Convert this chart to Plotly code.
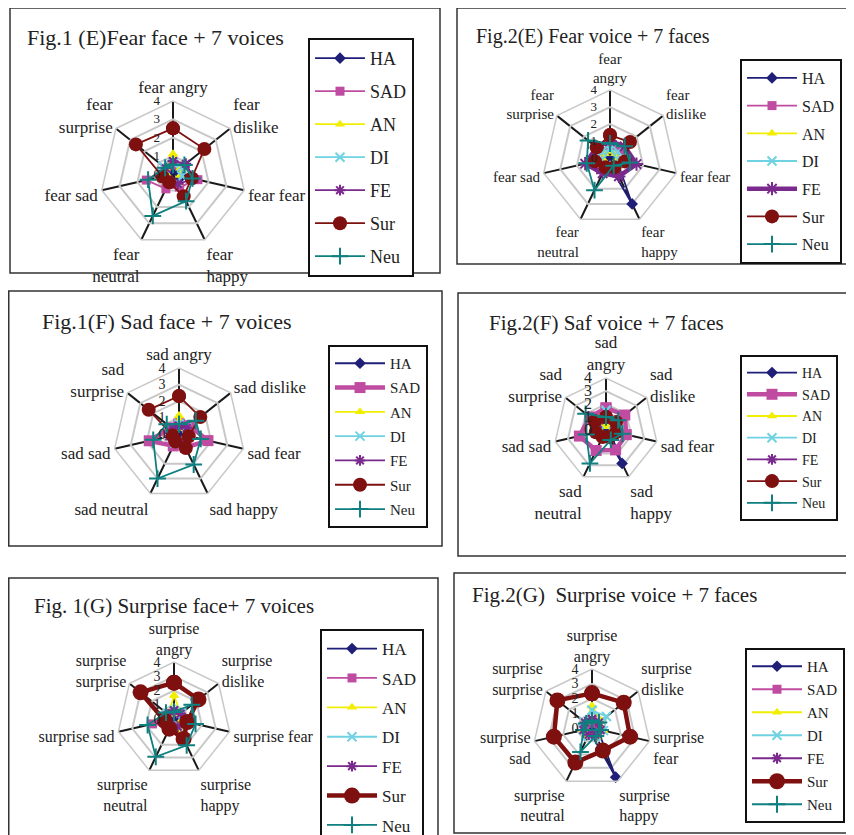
import plotly.graph_objects as go

# the page has an 8px body margin; layout is given in reference pixels shifted by it.
# The figure is made larger than the viewport so that the parts the reference cuts
# off at the right/bottom edges are simply cropped by the window.
OFF = 8
FW, FH = 870, 870
SERIF = "Liberation Serif, Times New Roman, serif"

# ---------------- data ----------------
series_names = ["HA", "SAD", "AN", "DI", "FE", "Sur", "Neu"]

# axis order: angry, dislike, fear, happy, neutral, sad, surprise
labels_1e = ["fear angry", "fear<br>dislike", "fear fear", "fear<br>happy",
             "fear<br>neutral", "fear sad", "fear<br>surprise"]
values_1e = {
    "HA":  [0.3, 0.3, 0.5, 0.5, 0.3, 0.3, 0.3],
    "SAD": [0.5, 0.7, 1.4, 0.8, 0.9, 1.5, 0.5],
    "AN":  [1.1, 0.5, 0.4, 0.6, 0.4, 0.3, 0.5],
    "DI":  [0.6, 0.6, 0.5, 0.5, 0.5, 0.5, 0.7],
    "FE":  [0.7, 0.9, 1.2, 0.6, 0.5, 0.6, 0.5],
    "Sur": [2.5, 2.2, 1.05, 1.35, 0.5, 0.6, 2.6],
    "Neu": [0.5, 0.8, 1.1, 1.65, 2.55, 1.4, 0.55],
}

labels_2e = ["fear<br>angry", "fear<br>dislike", "fear fear", "fear<br>happy",
             "fear<br>neutral", "fear sad", "fear<br>surprise"]
values_2e = {
    "HA":  [0.3, 0.3, 0.4, 3.0, 0.3, 0.3, 0.3],
    "SAD": [0.6, 0.7, 1.0, 0.8, 0.8, 0.9, 0.6],
    "AN":  [0.4, 0.4, 0.4, 0.4, 0.4, 0.4, 0.4],
    "DI":  [0.5, 0.6, 0.5, 0.5, 0.5, 0.5, 0.6],
    "FE":  [1.0, 1.1, 1.6, 1.2, 1.0, 1.5, 1.0],
    "Sur": [1.35, 1.5, 0.9, 0.6, 0.6, 0.9, 1.0],
    "Neu": [0.85, 1.1, 1.2, 0.5, 2.1, 1.4, 1.65],
}

labels_1f = ["sad angry", "sad dislike", "sad fear", "sad happy",
             "sad neutral", "sad sad", "sad<br>surprise"]
values_1f = {
    "HA":  [0.3, 0.3, 0.3, 0.4, 0.3, 0.3, 0.3],
    "SAD": [0.6, 0.8, 1.8, 0.9, 0.8, 1.85, 0.6],
    "AN":  [1.1, 0.5, 0.4, 0.8, 0.6, 0.4, 0.4],
    "DI":  [0.6, 0.6, 0.5, 0.5, 0.6, 0.5, 0.6],
    "FE":  [0.5, 0.6, 0.6, 0.5, 0.5, 0.6, 0.5],
    "Sur": [2.3, 1.65, 0.6, 0.95, 0.5, 0.4, 2.35],
    "Neu": [0.6, 1.3, 1.35, 2.05, 3.0, 1.6, 0.95],
}

labels_2f = ["sad<br>angry", "sad<br>dislike", "sad fear", "sad<br>happy",
             "sad<br>neutral", "sad sad", "sad<br>surprise"]
values_2f = {
    "HA":  [0.3, 0.3, 0.3, 2.85, 0.3, 0.3, 0.3],
    "SAD": [1.7, 1.85, 1.6, 1.7, 1.75, 2.1, 1.6],
    "AN":  [0.4, 0.4, 0.4, 0.4, 0.4, 0.4, 0.4],
    "DI":  [1.5, 0.8, 0.6, 0.5, 0.5, 0.6, 0.7],
    "FE":  [0.8, 0.8, 0.7, 0.6, 0.6, 0.7, 0.8],
    "Sur": [1.0, 1.0, 0.8, 0.6, 0.6, 0.8, 1.1],
    "Neu": [1.0, 1.2, 1.3, 0.85, 2.85, 1.55, 2.0],
}

labels_1g = ["surprise<br>angry", "surprise<br>dislike", "surprise fear", "surprise<br>happy",
             "surprise<br>neutral", "surprise sad", "surprise<br>surprise"]
values_1g = {
    "HA":  [0.3, 0.3, 0.3, 0.4, 0.3, 0.3, 0.3],
    "SAD": [0.5, 0.6, 1.0, 0.6, 0.6, 1.55, 0.6],
    "AN":  [1.65, 0.6, 0.5, 0.9, 0.5, 0.4, 0.5],
    "DI":  [0.6, 0.7, 0.6, 0.6, 0.5, 0.6, 0.6],
    "FE":  [0.6, 0.6, 0.8, 0.6, 0.5, 0.6, 0.5],
    "Sur": [2.55, 2.2, 0.95, 1.55, 0.75, 0.65, 3.0],
    "Neu": [0.5, 1.6, 1.55, 2.05, 2.95, 1.9, 0.72],
}

labels_2g = ["surprise<br>angry", "surprise<br>dislike", "surprise<br>fear", "surprise<br>happy",
             "surprise<br>neutral", "surprise<br>sad", "surprise<br>surprise"]
values_2g = {
    "HA":  [0.3, 0.3, 0.4, 3.7, 0.3, 0.3, 0.3],
    "SAD": [0.5, 0.5, 0.5, 0.5, 0.5, 0.5, 0.5],
    "AN":  [1.5, 0.8, 0.8, 0.7, 0.6, 0.6, 0.6],
    "DI":  [1.2, 1.25, 0.8, 0.6, 0.6, 0.6, 0.7],
    "FE":  [0.6, 0.6, 0.6, 0.5, 0.5, 0.6, 0.6],
    "Sur": [2.35, 2.75, 2.65, 1.7, 2.6, 2.65, 3.0],
    "Neu": [0.5, 0.6, 0.6, 0.6, 1.8, 0.6, 0.5],
}

titles = ["Fig.1 (E)Fear face + 7 voices", "Fig.2(E) Fear voice + 7 faces",
          "Fig.1(F) Sad face + 7 voices", "Fig.2(F) Saf voice + 7 faces",
          "Fig. 1(G) Surprise face+ 7 voices", "Fig.2(G)  Surprise voice + 7 faces"]
radial_ticks = [0, 1, 2, 3, 4]

# ---------------- styles / layout geometry (reference px) ----------------
colors = {"HA": "#1f1f78", "SAD": "#c04ca2", "AN": "#f2ee00", "DI": "#6fd2e2",
          "FE": "#7a2a8c", "Sur": "#7f1010", "Neu": "#0f7f80"}
symbols = {"HA": "diamond", "SAD": "square", "AN": "triangle-up", "DI": "x-thin-open",
           "FE": "asterisk-open", "Sur": "circle", "Neu": "cross-thin-open"}
msize = {"HA": 9, "SAD": 9, "AN": 9, "DI": 9, "FE": 9, "Sur": 14, "Neu": 12}

panels = [
    dict(labels=labels_1e, values=values_1e, c=(173, 174), R=73, box=(10, 8, 440, 273),
         title=(25, 38, 22), leg=(308, 38, 18, 6.6), hl=None, afont=17, rfont=13),
    dict(labels=labels_2e, values=values_2e, c=(610, 158), R=68, box=(457, 8, 900, 264),
         title=(474, 37, 20), leg=(740, 59, 16, 3.9), hl="FE", afont=15, rfont=13),
    dict(labels=labels_1f, values=values_1f, c=(179, 434), R=66, box=(3, 291, 442, 546),
         title=(40, 321, 22), leg=(328, 345, 15, 1.8), hl="SAD", afont=17, rfont=14),
    dict(labels=labels_2f, values=values_2f, c=(606, 430), R=52, box=(458, 293, 900, 556),
         title=(487, 323, 21), leg=(740, 355, 14, 0.5), hl="SAD", afont=17, rfont=16),
    dict(labels=labels_1g, values=values_1g, c=(174, 719), R=57, box=(5, 578, 438, 900),
         title=(32, 606, 21), leg=(320, 629, 17, 4.3), hl="Sur", afont=16, rfont=14),
    dict(labels=labels_2g, values=values_2g, c=(592, 728), R=59, box=(454, 573, 900, 833),
         title=(470, 595, 21), leg=(745, 648, 15, 0.5), hl="Sur", afont=16, rfont=14),
]


def fx(x):
    return (max(x, OFF + 0.75) - OFF) / FW


def fy(y):
    return 1 - (y - OFF) / FH


fig = go.Figure()
layout = dict(width=FW, height=FH, autosize=False, margin=dict(l=0, r=0, t=0, b=0),
              paper_bgcolor="white", plot_bgcolor="white", showlegend=True,
              shapes=[], annotations=[])

for i, p in enumerate(panels):
    n = i + 1
    pid = "polar" if n == 1 else f"polar{n}"
    lid = "legend" if n == 1 else f"legend{n}"
    cx, cy = p["c"]
    R = p["R"]
    for s in series_names:
        vals = p["values"][s]
        thick = (p["hl"] == s)
        open_sym = symbols[s].endswith("open")
        fig.add_trace(go.Scatterpolar(
            r=vals + vals[:1], theta=p["labels"] + p["labels"][:1],
            mode="lines+markers", name=s, subplot=pid, legend=lid,
            legendgroup=f"p{n}{s}",
            line=dict(color=colors[s], width=4.5 if thick else 1.8),
            marker=dict(symbol=symbols[s], size=msize[s] + (2 if thick else 0),
                        color=colors[s],
                        line=dict(color=colors[s], width=2 if open_sym else 0)),
        ))
    layout[pid] = dict(
        domain=dict(x=[fx(cx - R), fx(cx + R)], y=[fy(cy + R), fy(cy - R)]),
        gridshape="linear", bgcolor="white",
        angularaxis=dict(type="category", categoryarray=p["labels"], rotation=90,
                         direction="clockwise", showline=True, linecolor="#c8c8c8",
                         linewidth=1.5, gridcolor="#1a1a1a", gridwidth=1.5, ticks="",
                         tickfont=dict(family=SERIF, size=p["afont"], color="#222")),
        radialaxis=dict(range=[0, 4], tickvals=radial_ticks, angle=90, tickangle=90,
                        side="counterclockwise", showline=False,
                        ticks="outside", ticklen=8, tickcolor="rgba(0,0,0,0)",
                        gridcolor="#c8c8c8", gridwidth=1.5,
                        tickfont=dict(family=SERIF, size=p["rfont"], color="#222")),
    )
    lx, ly, lfs, gap = p["leg"]
    layout[lid] = dict(x=fx(lx), y=fy(ly), xanchor="left", yanchor="top",
                       xref="paper", yref="paper",
                       bordercolor="#111", borderwidth=2, bgcolor="white",
                       font=dict(family=SERIF, size=lfs, color="#222"),
                       tracegroupgap=gap, traceorder="grouped", itemwidth=50)
    x0, y0, x1, y1 = p["box"]
    layout["shapes"].append(dict(type="rect", xref="paper", yref="paper",
                                 x0=fx(x0), x1=fx(x1), y0=fy(y0), y1=fy(y1),
                                 line=dict(color="#333", width=1.5), layer="below"))
    tx, ty, tfs = p["title"]
    layout["annotations"].append(dict(text=titles[i], xref="paper", yref="paper",
                                      x=fx(tx), y=fy(ty), xanchor="left", yanchor="middle",
                                      showarrow=False,
                                      font=dict(family=SERIF, size=tfs, color="#222")))

fig.update_layout(**layout)
fig.write_html("out.html")
